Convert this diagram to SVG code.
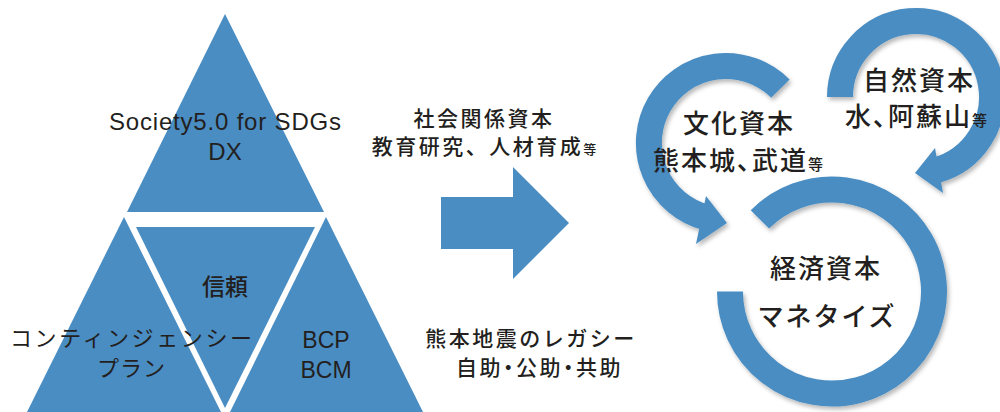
<svg xmlns="http://www.w3.org/2000/svg" width="1000" height="412" viewBox="0 0 1000 412">
  <defs>
    <filter id="shadow" x="-20%" y="-20%" width="140%" height="140%">
      <feDropShadow dx="2" dy="3" stdDeviation="2" flood-color="#000" flood-opacity="0.28"/>
    </filter>
  </defs>
  <style>
    .tri { fill: #4a8dc2; }
    .ring { fill: none; stroke: #4a8dc2; stroke-width: 26; stroke-linecap: butt; }
    .head { fill: #4a8dc2; }
    .jp { font-family: "Noto Sans CJK JP", "Noto Sans", sans-serif; fill: #231f20; }
    .lat { font-family: "Liberation Sans", Arial, sans-serif; fill: #231f20; }
    .mid { font-size: 21px; letter-spacing: 2.5px; font-weight: 500; }
    .big { font-size: 26px; font-weight: 500; letter-spacing: 2px; }
    .palt { font-feature-settings: "palt"; }
    .sm { font-size: 13px; letter-spacing: 0; }
    .sm2 { font-size: 15px; letter-spacing: 0; }
  </style>

  <!-- Left pyramid -->
  <g id="top-triangle">
    <polygon class="tri" points="225,14 127,212 324,212"/>
    <text class="lat" x="225" y="130" font-size="24" text-anchor="middle" textLength="232" lengthAdjust="spacing">Society5.0 for SDGs</text>
    <text class="lat" x="225" y="160" font-size="24" text-anchor="middle">DX</text>
  </g>
  <g id="left-triangle">
    <polygon class="tri" points="124,217 27,412 221,412"/>
  </g>
  <g id="center-triangle">
    <polygon class="tri" points="136,227 315,227 225,408"/>
    <text class="jp" x="225" y="295" font-size="23" font-weight="500" text-anchor="middle">信頼</text>
  </g>
  <g id="right-triangle">
    <polygon class="tri" points="326,217 230,412 423,412"/>
    <text class="lat" x="326" y="348" font-size="23" text-anchor="middle">BCP</text>
    <text class="lat" x="326" y="378" font-size="23" text-anchor="middle">BCM</text>
  </g>
  <g id="left-label">
    <text class="jp" x="131" y="346" font-size="22" text-anchor="middle" textLength="242" lengthAdjust="spacing">コンティンジェンシー</text>
    <text class="jp" x="131" y="376" font-size="22" text-anchor="middle" textLength="68" lengthAdjust="spacing">プラン</text>
  </g>

  <!-- Middle labels -->
  <g id="social-capital">
    <text class="jp mid" x="484" y="126" text-anchor="middle">社会関係資本</text>
    <text class="jp mid" x="484" y="154" text-anchor="middle">教育研究、人材育成<tspan class="sm">等</tspan></text>
  </g>
  <g id="legacy">
    <text class="jp mid" x="531" y="346" text-anchor="middle" letter-spacing="1.8">熊本地震のレガシー</text>
    <text class="jp mid palt" x="456" y="375">自助・公助・共助</text>
  </g>

  <!-- Connectors -->
  <g id="connectors">
    <polygon class="head" points="441,197 513,197 513,167 569,223 513,279 513,249 441,249"/>
  </g>

  <!-- Capital cycles -->
  <g id="culture-capital">
    <g filter="url(#shadow)">
      <path class="ring" d="M780.4,88.6 A77,77 0 1 0 706.1,217.4"/>
      <polygon class="head" points="706,196 696,244 727,223"/>
    </g>
    <text class="jp big" x="683" y="133">文化資本</text>
    <text class="jp big palt" x="653" y="170">熊本城、武道<tspan class="sm2">等</tspan></text>
  </g>
  <g id="natural-capital">
    <g filter="url(#shadow)">
      <path class="ring" d="M840,97 A76,76 0 1 1 935.7,170.4"/>
      <polygon class="head" points="935,148 943,193 915,173"/>
    </g>
    <text class="jp big" x="863" y="90">自然資本</text>
    <text class="jp big palt" x="845" y="126">水、阿蘇山<tspan class="sm2">等</tspan></text>
  </g>
  <g id="economic-capital">
    <g filter="url(#shadow)">
      <path class="ring" d="M759.9,219.4 A102,102 0 1 1 730,291.5"/>
    </g>
    <text class="jp big" x="770" y="278" letter-spacing="2.5">経済資本</text>
    <text class="jp big" x="827" y="326" text-anchor="middle" letter-spacing="-1">マネタイズ</text>
  </g>
</svg>
